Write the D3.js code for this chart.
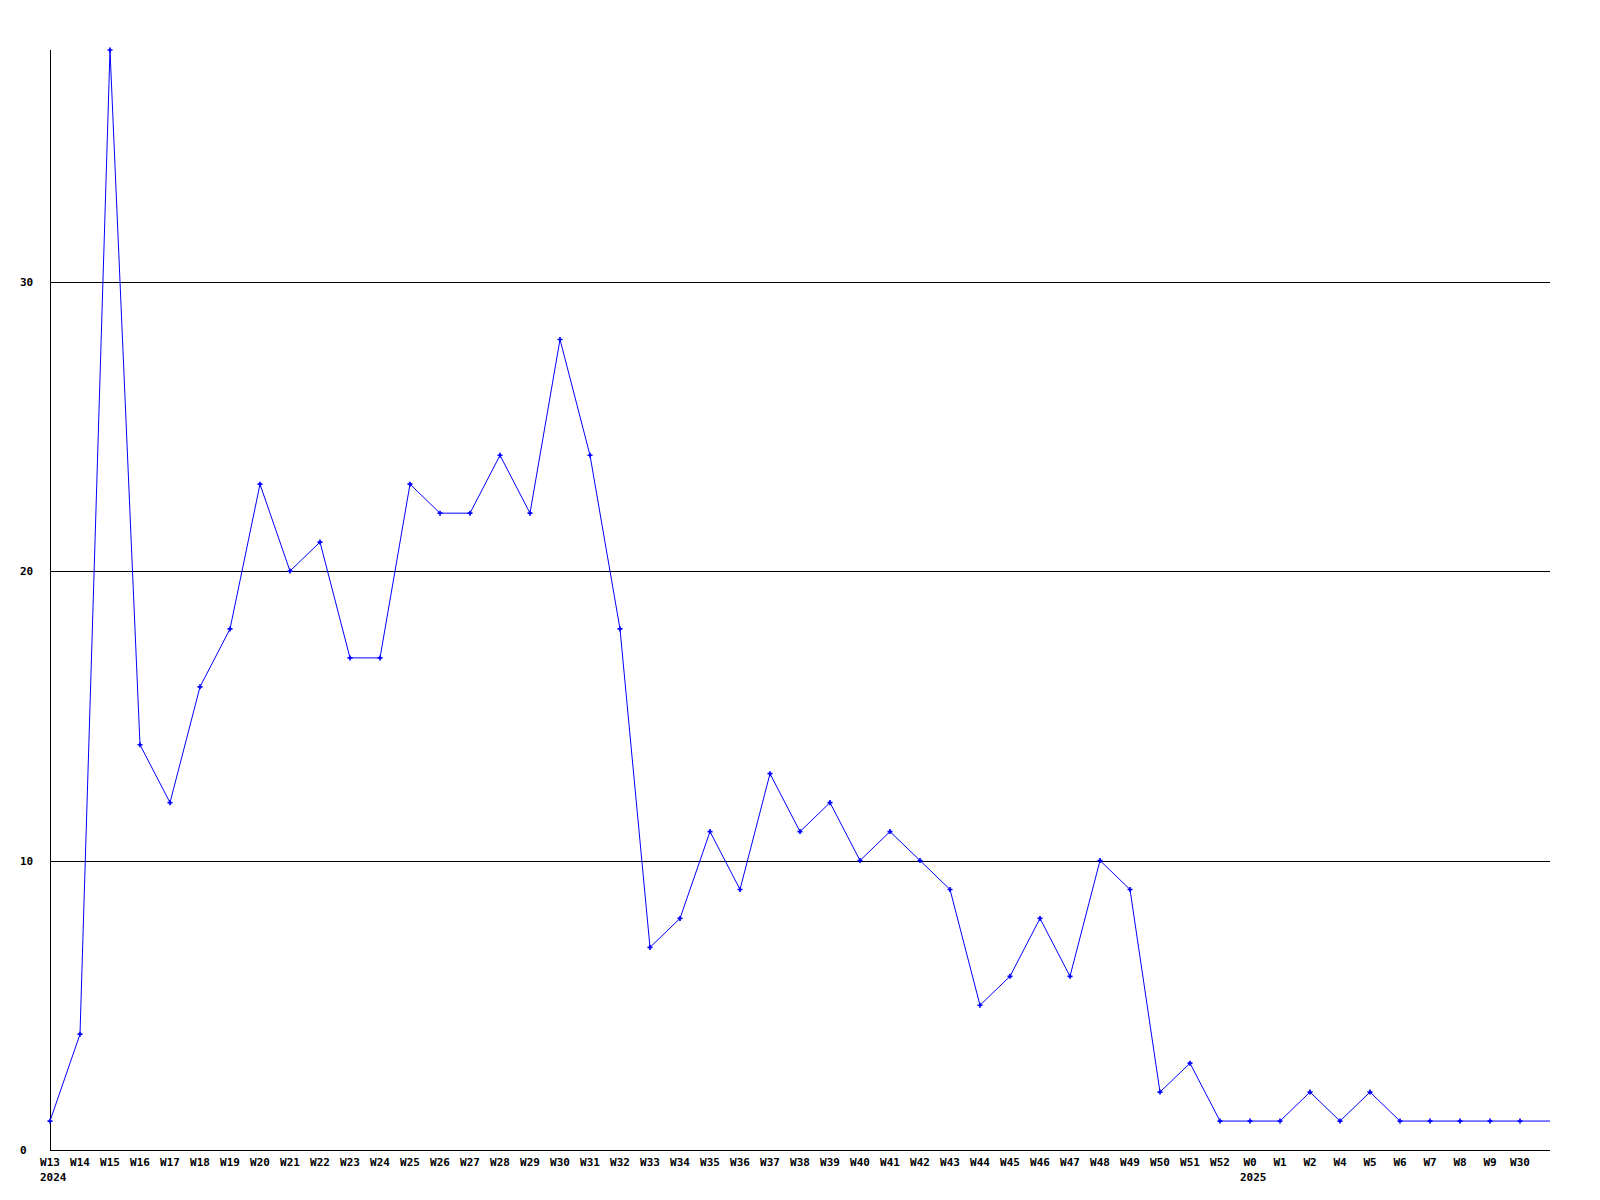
<!DOCTYPE html>
<html><head><meta charset="utf-8">
<script src="https://cdn.jsdelivr.net/npm/d3@7"></script>
<style>body{margin:0;background:#fff}</style>
</head><body>
<script>
const weeks = ["W13","W14","W15","W16","W17","W18","W19","W20","W21","W22","W23","W24","W25","W26","W27","W28","W29","W30","W31","W32","W33","W34","W35","W36","W37","W38","W39","W40","W41","W42","W43","W44","W45","W46","W47","W48","W49","W50","W51","W52","W0","W1","W2","W4","W5","W6","W7","W8","W9","W30",""];
const years = {0:"2024", 40:"2025"};
const counts = [1,4,38,14,12,16,18,23,20,21,17,17,23,22,22,24,22,28,24,18,7,8,11,9,13,11,12,10,11,10,9,5,6,8,6,10,9,2,3,1,1,1,2,1,2,1,1,1,1,1,1];
const yTicks = [0,10,20,30];

const W=1600,H=1200;
const svg=d3.select("body").append("svg").attr("width",W).attr("height",H);
const idx=d3.range(counts.length);
const x=d3.scaleLinear().domain([0,counts.length-1]).range([50,1550]);
const y=d3.scaleLinear().domain([0,38]).range([1150,50]);
const font="'DejaVu Sans Mono', monospace";

// gridlines
svg.append("g").selectAll("line").data(yTicks.filter(t=>t>0)).join("line")
  .attr("x1",50).attr("x2",1550).attr("y1",d=>Math.round(y(d))+0.5).attr("y2",d=>Math.round(y(d))+0.5)
  .attr("stroke","#000").attr("stroke-width",1).attr("shape-rendering","crispEdges");
// axes
svg.append("line").attr("x1",50.5).attr("x2",50.5).attr("y1",50).attr("y2",1150.5).attr("stroke","#000").attr("shape-rendering","crispEdges");
svg.append("line").attr("x1",50).attr("x2",1550).attr("y1",1150.5).attr("y2",1150.5).attr("stroke","#000").attr("shape-rendering","crispEdges");

// y labels
svg.append("g").selectAll("text").data(yTicks).join("text")
  .attr("x",20).attr("y",d=>y(d)+4).text(d=>d)
  .attr("font-family",font).attr("font-weight","bold").attr("font-size",11).attr("fill","#000");

// x labels
svg.append("g").selectAll("text").data(idx.filter(i=>weeks[i]!=="")).join("text")
  .attr("x",i=>x(i)).attr("y",1166).attr("text-anchor","middle").text(i=>weeks[i])
  .attr("font-family",font).attr("font-weight","bold").attr("font-size",11).attr("fill","#000");
svg.append("g").selectAll("text").data(Object.keys(years).map(Number)).join("text")
  .attr("x",i=>x(i)-10).attr("y",1181).text(i=>years[i])
  .attr("font-family",font).attr("font-weight","bold").attr("font-size",11).attr("fill","#000");

// line
svg.append("path").datum(idx).attr("d",d3.line().x(i=>x(i)).y(i=>y(counts[i])))
  .attr("fill","none").attr("stroke","#0000ff").attr("stroke-width",1);
// markers
svg.append("g").selectAll("path").data(idx.filter(i=>weeks[i]!=="")).join("path")
  .attr("transform",i=>`translate(${x(i)},${y(counts[i])})`)
  .attr("d",d3.symbol(d3.symbolCross).size(14)).attr("fill","#0000ff");
</script>
</body></html>
